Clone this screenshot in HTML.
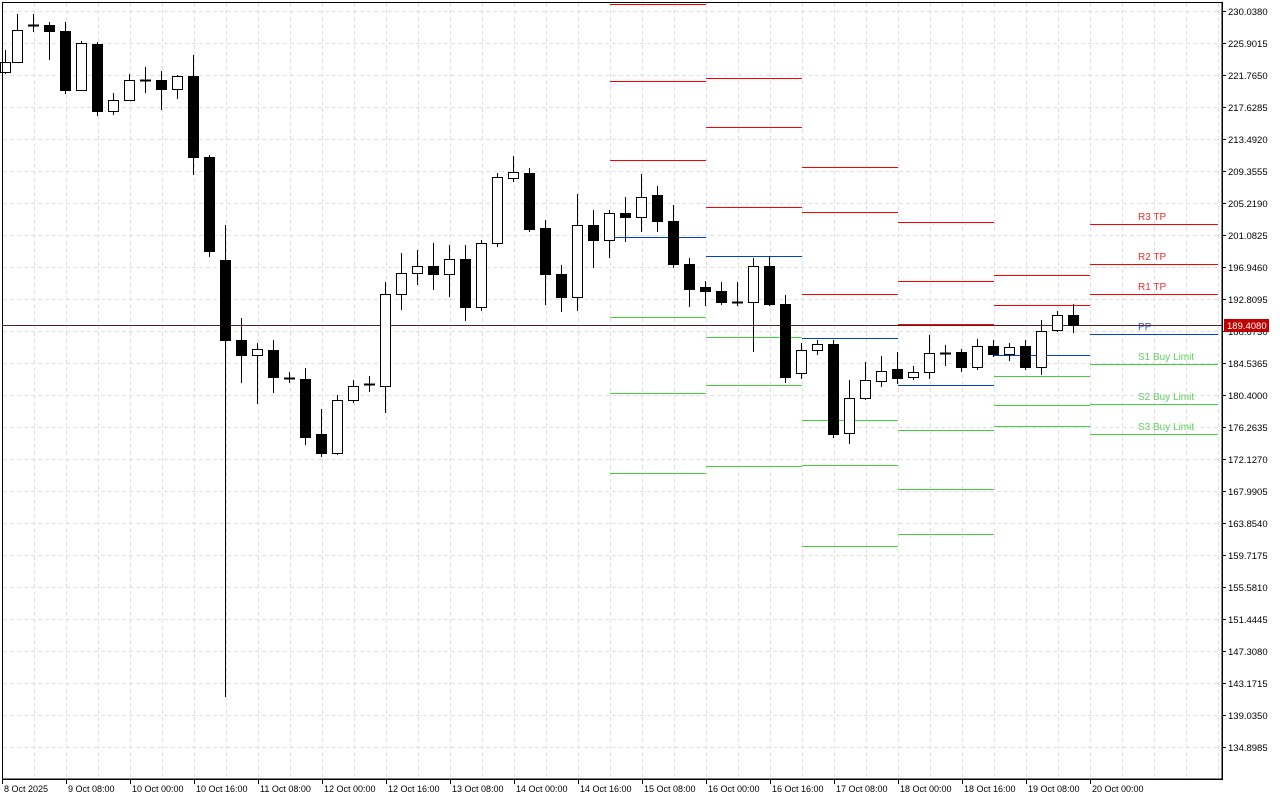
<!DOCTYPE html>
<html><head><meta charset="utf-8"><style>
html,body{margin:0;padding:0;background:#fff;width:1280px;height:800px;overflow:hidden}
svg{display:block;font-family:"Liberation Sans",sans-serif}
</style></head><body>
<svg id="c" width="1280" height="800" xmlns="http://www.w3.org/2000/svg"></svg>
<script>
var s='';
// grid
for(var x=34;x<1222;x+=32) s+='<line x1="'+x+'.5" y1="3" x2="'+x+'.5" y2="779" stroke="#e0e0e0" stroke-dasharray="4,3"/>';
for(var y=11;y<779;y+=32) s+='<line x1="3" y1="'+y+'.5" x2="1222" y2="'+y+'.5" stroke="#e0e0e0" stroke-dasharray="4,3"/>';
// pivot lines
var R='#ff0000',B='#0040d0',G='#40d040';
var segs=[[610,706,[4,81,160],237,[317,393,473]],[706,802,[78,127,207],256,[337,385,466]],[802,898,[167,212,294],338,[420,465,546]],[898,994,[222,281,325],385,[430,489,534]],[994,1090,[275,305],355,[376,405,426]],[1090,1218,[224,264,294],334,[364,404,434]]];
segs.forEach(function(g){g[2].forEach(function(y){s+='<line x1="'+g[0]+'" y1="'+y+'.5" x2="'+g[1]+'" y2="'+y+'.5" stroke="'+R+'"/>';});
s+='<line x1="'+g[0]+'" y1="'+g[3]+'.5" x2="'+g[1]+'" y2="'+g[3]+'.5" stroke="'+B+'"/>';
g[4].forEach(function(y){s+='<line x1="'+g[0]+'" y1="'+y+'.5" x2="'+g[1]+'" y2="'+y+'.5" stroke="'+G+'"/>';});});
s+='<line x1="898" y1="325" x2="994" y2="325" stroke="'+R+'" stroke-width="2"/>';
// labels
var L=[['R3 TP',220,'#e83030'],['R2 TP',260,'#e83030'],['R1 TP',290,'#e83030'],['PP',330,'#3050d0'],['S1 Buy Limit',360,'#60d060'],['S2 Buy Limit',400,'#60d060'],['S3 Buy Limit',430,'#60d060']];
L.forEach(function(l){s+='<text x="1138" y="'+l[1]+'" font-size="10" fill="'+l[2]+'">'+l[0]+'</text>';});
// price line
s+='<line x1="3" y1="325.5" x2="1222" y2="325.5" stroke="#5a2020"/>';
// candles [x,o,c,h,l]
var C=[[5,72,62,50,74],[17,62,30,14,63],[33,25,25,14,32],[49,25,31,22,60],[65,31,90,22,94],[81,90,43,41,91],[97,44,111,42,116],[113,111,100,93,115],[129,100,80,74,101],[145,80,80,67,93],[161,80,89,71,110],[177,89,76,75,99],[193,76,157,55,175],[209,157,251,155,257],[225,260,340,225,697],[241,340,355,318,383],[257,355,349,343,404],[273,350,377,340,393],[289,378,378,372,383],[305,379,437,368,445],[321,434,453,409,457],[337,453,400,395,455],[353,400,386,380,403],[369,384,384,376,392],[385,386,294,282,413],[401,294,273,253,310],[417,273,266,250,285],[433,266,274,243,290],[449,274,259,245,297],[465,259,307,245,321],[481,307,243,240,311],[497,243,177,173,247],[513,178,172,156,182],[529,173,229,168,232],[545,228,274,220,305],[561,274,297,265,312],[577,297,225,194,311],[593,225,240,210,268],[609,240,213,210,258],[625,213,217,197,242],[641,217,197,174,232],[657,195,221,186,232],[673,221,264,205,268],[689,264,289,258,307],[705,287,291,281,306],[721,291,302,282,305],[737,302,302,282,306],[753,302,266,258,352],[769,266,304,256,306],[785,304,377,295,383],[801,373,350,343,379],[817,350,344,340,355],[833,344,434,340,438],[849,433,398,380,444],[865,398,380,362,400],[881,381,371,356,387],[897,369,378,352,384],[913,377,372,366,380],[929,372,353,335,379],[945,353,353,345,366],[961,352,367,349,372],[977,367,346,339,370],[993,346,354,340,357],[1009,354,347,343,361],[1025,346,367,340,370],[1041,367,331,320,375],[1057,330,315,311,332],[1073,315,325,304,333]];
C.forEach(function(c){var x=c[0],o=c[1],cl=c[2],t=Math.min(o,cl),b=Math.max(o,cl),bear=cl>o;
s+='<line x1="'+x+'.5" y1="'+c[3]+'" x2="'+x+'.5" y2="'+c[4]+'" stroke="#000"/>';
if(b-t<2){s+='<line x1="'+(x-5)+'" y1="'+t+'.5" x2="'+(x+6)+'" y2="'+t+'.5" stroke="#000" stroke-width="2"/>';}
else s+='<rect x="'+(x-4.5)+'" y="'+(t+0.5)+'" width="10" height="'+(b-t)+'" fill="'+(bear?'#000':'#fff')+'" stroke="#000"/>';});
// frame
s+='<rect x="2.5" y="2.5" width="1219.5" height="776.5" fill="none" stroke="#000"/>';
s+='<rect x="1223" y="0" width="57" height="800" fill="#fff"/><rect x="0" y="780" width="1280" height="20" fill="#fff"/>';
s+='<line x1="1222.5" y1="2" x2="1222.5" y2="780" stroke="#000"/><line x1="2" y1="779.5" x2="1223" y2="779.5" stroke="#000"/>';
// y labels
for(var i=0;i<24;i++){var y=11+32*i,v=(230.038-4.1365*i).toFixed(4);
s+='<line x1="1222" y1="'+y+'.5" x2="1226" y2="'+y+'.5" stroke="#000"/><text x="1228" y="'+(y+4)+'" font-size="9.5">'+v+'</text>';}
s+='<rect x="1224" y="319" width="45" height="13" fill="#c00000"/><text x="1227" y="329" font-size="9.5" fill="#fff">189.4080</text>';
// x labels
var X=['8 Oct 2025','9 Oct 08:00','10 Oct 00:00','10 Oct 16:00','11 Oct 08:00','12 Oct 00:00','12 Oct 16:00','13 Oct 08:00','14 Oct 00:00','14 Oct 16:00','15 Oct 08:00','16 Oct 00:00','16 Oct 16:00','17 Oct 08:00','18 Oct 00:00','18 Oct 16:00','19 Oct 08:00','20 Oct 00:00'];
X.forEach(function(t,i){var x=i==0?2:2+64*i;s+='<line x1="'+x+'.5" y1="779" x2="'+x+'.5" y2="784" stroke="#000"/><text x="'+(x+2)+'" y="792" font-size="9">'+t+'</text>';});
document.getElementById('c').innerHTML=s;
</script>
</body></html>
